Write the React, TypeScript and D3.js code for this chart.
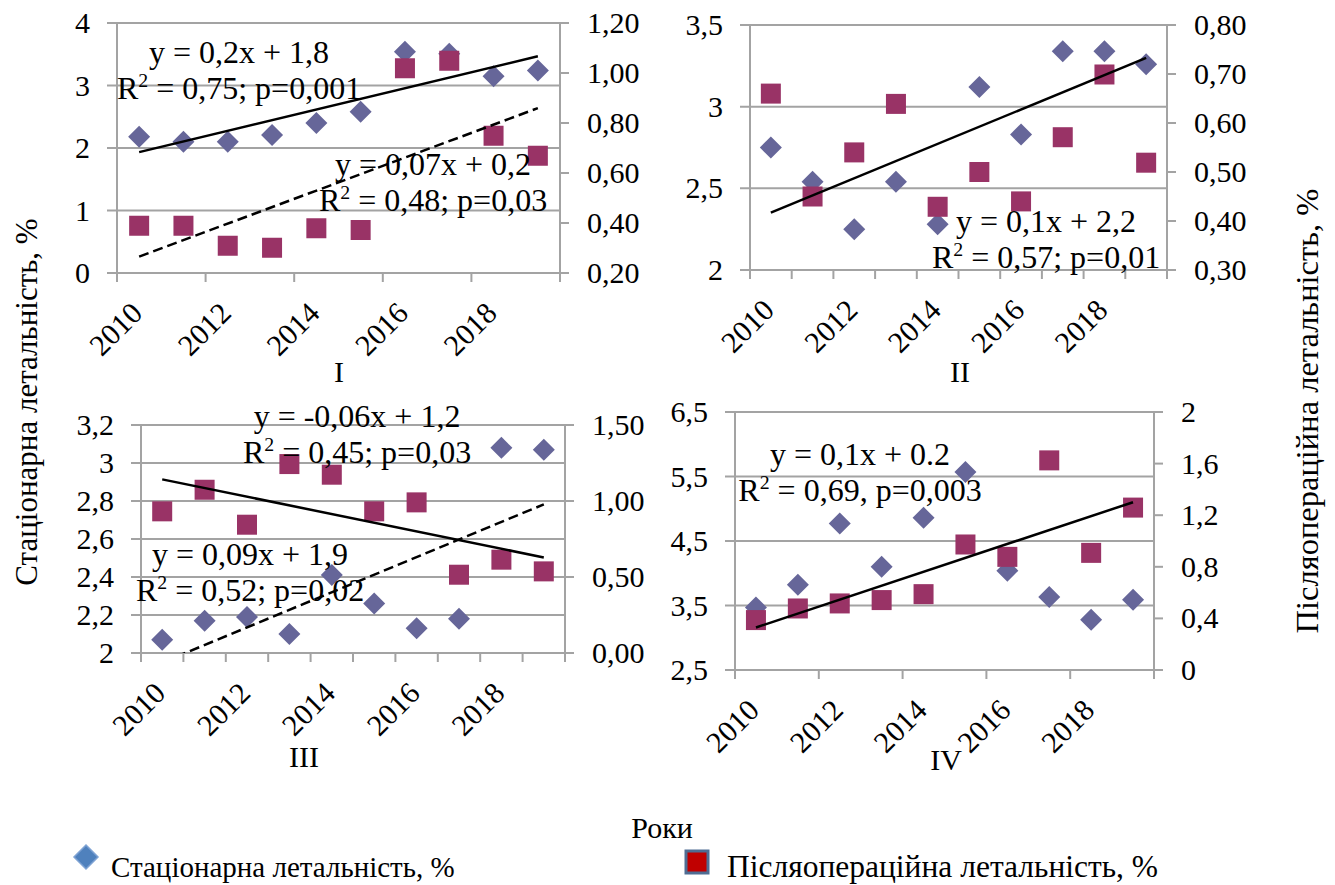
import React from "react";
import * as d3 from "d3";

// ---- Data -------------------------------------------------------------
const YEARS = [2010, 2011, 2012, 2013, 2014, 2015, 2016, 2017, 2018, 2019];
const YEAR_LABELS = [2010, 2012, 2014, 2016, 2018];

const SERIES_NAMES = ["Стаціонарна летальність, %", "Післяопераційна летальність, %"];
const X_TITLE = "Роки";
const PANEL_TITLES = ["I", "II", "III", "IV"];

// Group I
const inpatientI = [2.18, 2.1, 2.1, 2.21, 2.4, 2.58, 3.54, 3.51, 3.15, 3.24];
const postopI = [0.389, 0.389, 0.309, 0.301, 0.379, 0.372, 1.019, 1.049, 0.749, 0.669];
// Group II
const inpatientII = [2.75, 2.54, 2.25, 2.54, 2.28, 3.12, 2.83, 3.34, 3.34, 3.26];
const postopII = [0.66, 0.45, 0.54, 0.639, 0.429, 0.5, 0.44, 0.571, 0.699, 0.519];
// Group III
const inpatientIII = [2.07, 2.17, 2.19, 2.1, 2.41, 2.26, 2.13, 2.18, 3.08, 3.07];
const postopIII = [0.932, 1.074, 0.844, 1.243, 1.173, 0.932, 0.991, 0.515, 0.614, 0.537];
// Group IV
const inpatientIV = [3.47, 3.82, 4.77, 4.1, 4.86, 5.57, 4.04, 3.63, 3.28, 3.59];
const postopIV = [0.387, 0.477, 0.516, 0.542, 0.588, 0.973, 0.877, 1.625, 0.908, 1.259];

// Axis ticks
const leftTicksI = [0, 1, 2, 3, 4];
const rightTicksI = [0.2, 0.4, 0.6, 0.8, 1.0, 1.2];
const leftTicksII = [2, 2.5, 3, 3.5];
const rightTicksII = [0.3, 0.4, 0.5, 0.6, 0.7, 0.8];
const leftTicksIII = [2, 2.2, 2.4, 2.6, 2.8, 3, 3.2];
const rightTicksIII = [0, 0.5, 1, 1.5];
const leftTicksIV = [2.5, 3.5, 4.5, 5.5, 6.5];
const rightTicksIV = [0, 0.4, 0.8, 1.2, 1.6, 2];

// Trend-line annotations
const notesI = [
  ["y = 0,2x + 1,8", "R² = 0,75; p=0,001"],
  ["y = 0,07x + 0,2", "R² = 0,48; p=0,03"],
];
const notesII = [["y = 0,1x + 2,2", "R² = 0,57; p=0,01"]];
const notesIII = [
  ["y = -0,06x + 1,2", "R² = 0,45; p=0,03"],
  ["y = 0,09x + 1,9", "R² = 0,52; p=0,02"],
];
const notesIV = [["y = 0,1x + 0.2", "R² = 0,69, p=0,003"]];

// ---- Styling ----------------------------------------------------------
const FONT = "'Liberation Serif', 'Times New Roman', Times, serif";
const GRID = "#a3a3a3";
const DIAMOND = "#666699";
const SQUARE = "#993366";
const FS = 30;
const NOTE_FS = 32;

const comma = (digits?: number) => (v: number) =>
  (digits == null ? String(+v.toFixed(2)) : v.toFixed(digits)).replace(".", ",");

type Series = "inpatient" | "postop";

interface PanelSpec {
  key: string;
  title: string;
  titleAt: [number, number];
  box: { l: number; r: number; t: number; b: number };
  leftTicks: number[];
  rightTicks: number[];
  leftFmt: (v: number) => string;
  rightFmt: (v: number) => string;
  tickEvery: number;
  inpatient: number[];
  postop: number[];
  trends: { series: Series; dashed?: boolean }[];
  notes: string[][];
  notesAt: [number, number][];
}

const panels: PanelSpec[] = [
  {
    key: "p1",
    title: PANEL_TITLES[0],
    titleAt: [339, 382],
    box: { l: 117, r: 560, t: 23, b: 273 },
    leftTicks: leftTicksI,
    rightTicks: rightTicksI,
    leftFmt: comma(),
    rightFmt: comma(2),
    tickEvery: 2,
    inpatient: inpatientI,
    postop: postopI,
    trends: [{ series: "inpatient" }, { series: "postop", dashed: true }],
    notes: notesI,
    notesAt: [
      [239, 63],
      [433, 175],
    ],
  },
  {
    key: "p2",
    title: PANEL_TITLES[1],
    titleAt: [960, 382],
    box: { l: 750, r: 1167, t: 25, b: 270 },
    leftTicks: leftTicksII,
    rightTicks: rightTicksII,
    leftFmt: comma(),
    rightFmt: comma(2),
    tickEvery: 1,
    inpatient: inpatientII,
    postop: postopII,
    trends: [{ series: "inpatient" }],
    notes: notesII,
    notesAt: [[1046, 232]],
  },
  {
    key: "p3",
    title: PANEL_TITLES[2],
    titleAt: [304, 767],
    box: { l: 141, r: 565, t: 425, b: 653 },
    leftTicks: leftTicksIII,
    rightTicks: rightTicksIII,
    leftFmt: comma(),
    rightFmt: comma(2),
    tickEvery: 1,
    inpatient: inpatientIII,
    postop: postopIII,
    trends: [{ series: "postop" }, { series: "inpatient", dashed: true }],
    notes: notesIII,
    notesAt: [
      [357, 427],
      [250, 565],
    ],
  },
  {
    key: "p4",
    title: PANEL_TITLES[3],
    titleAt: [946, 770],
    box: { l: 735, r: 1154, t: 412, b: 670 },
    leftTicks: leftTicksIV,
    rightTicks: rightTicksIV,
    leftFmt: comma(),
    rightFmt: comma(),
    tickEvery: 2,
    inpatient: inpatientIV,
    postop: postopIV,
    trends: [{ series: "postop" }],
    notes: notesIV,
    notesAt: [[860, 465]],
  },
];

// Ordinary least squares over the category index (1..n)
function linearFit(vals: number[]) {
  const xs = vals.map((_, i) => i + 1);
  const mx = d3.mean(xs) as number;
  const my = d3.mean(vals) as number;
  let sxy = 0;
  let sxx = 0;
  xs.forEach((x, i) => {
    sxy += (x - mx) * (vals[i] - my);
    sxx += (x - mx) * (x - mx);
  });
  const slope = sxy / sxx;
  const intercept = my - slope * mx;
  return (x: number) => intercept + slope * x;
}

function NoteLine({ text, x, y }: { text: string; x: number; y: number }) {
  const parts = text.split("²");
  if (parts.length === 1) {
    return (
      <text x={x} y={y} textAnchor="middle">
        {text}
      </text>
    );
  }
  return (
    <text x={x} y={y} textAnchor="middle">
      {parts[0]}
      <tspan dy={-12} fontSize={NOTE_FS * 0.62}>
        2
      </tspan>
      <tspan dy={12}>{parts[1]}</tspan>
    </text>
  );
}

function Panel({ p }: { p: PanelSpec }) {
  const { l, r, t, b } = p.box;
  const x = d3.scaleBand<number>().domain(YEARS).range([l, r]).padding(0);
  const bw = x.bandwidth();
  const cx = (yr: number) => (x(yr) as number) + bw / 2;
  const yL = d3
    .scaleLinear()
    .domain(d3.extent(p.leftTicks) as [number, number])
    .range([b, t]);
  const yR = d3
    .scaleLinear()
    .domain(d3.extent(p.rightTicks) as [number, number])
    .range([b, t]);

  const boundaries = d3.range(0, YEARS.length + 1, p.tickEvery).map((i) => l + i * bw);
  const clipId = `clip-${p.key}`;
  const dia = 11;
  const sq = 10;

  return (
    <g>
      <defs>
        <clipPath id={clipId}>
          <rect x={l} y={t} width={r - l} height={b - t} />
        </clipPath>
      </defs>
      {/* horizontal gridlines from the primary axis */}
      {p.leftTicks.map((v) => (
        <line key={`g${v}`} x1={l - 10} x2={r} y1={yL(v)} y2={yL(v)} stroke={GRID} strokeWidth={2} />
      ))}
      {/* secondary axis ticks */}
      {p.rightTicks.map((v) => (
        <line key={`rt${v}`} x1={r} x2={r + 9} y1={yR(v)} y2={yR(v)} stroke={GRID} strokeWidth={2} />
      ))}
      {/* axis lines */}
      <line x1={l} x2={l} y1={t} y2={b + 9} stroke={GRID} strokeWidth={2} />
      <line x1={r} x2={r} y1={t} y2={b} stroke={GRID} strokeWidth={2} />
      <line x1={l} x2={r} y1={b} y2={b} stroke={GRID} strokeWidth={2} />
      {boundaries.map((bx) => (
        <line key={`bt${bx}`} x1={bx} x2={bx} y1={b} y2={b + 9} stroke={GRID} strokeWidth={2} />
      ))}

      {/* tick labels */}
      <g fontFamily={FONT} fontSize={FS} fill="#000">
        {p.leftTicks.map((v) => (
          <text key={`lt${v}`} x={l - 27} y={yL(v) + 10} textAnchor="end">
            {p.leftFmt(v)}
          </text>
        ))}
        {p.rightTicks.map((v) => (
          <text key={`rl${v}`} x={r + 27} y={yR(v) + 10} textAnchor="start">
            {p.rightFmt(v)}
          </text>
        ))}
        {YEAR_LABELS.map((yr) => (
          <text
            key={`xl${yr}`}
            transform={`translate(${cx(yr) + 5},${b + 42}) rotate(-45)`}
            textAnchor="end"
          >
            {yr}
          </text>
        ))}
        <text x={p.titleAt[0]} y={p.titleAt[1]} textAnchor="middle">
          {p.title}
        </text>
      </g>

      {/* series markers */}
      {p.inpatient.map((v, i) => {
        const px = cx(YEARS[i]);
        const py = yL(v);
        return (
          <polygon
            key={`d${i}`}
            points={`${px},${py - dia} ${px + dia},${py} ${px},${py + dia} ${px - dia},${py}`}
            fill={DIAMOND}
          />
        );
      })}
      {p.postop.map((v, i) => (
        <rect
          key={`s${i}`}
          x={cx(YEARS[i]) - sq}
          y={yR(v) - sq}
          width={sq * 2}
          height={sq * 2}
          fill={SQUARE}
        />
      ))}

      {/* linear trend lines */}
      <g clipPath={`url(#${clipId})`}>
        {p.trends.map((tr, k) => {
          const vals = tr.series === "inpatient" ? p.inpatient : p.postop;
          const ys = tr.series === "inpatient" ? yL : yR;
          const f = linearFit(vals);
          const pts: [number, number][] = [
            [cx(YEARS[0]), ys(f(1))],
            [cx(YEARS[YEARS.length - 1]), ys(f(YEARS.length))],
          ];
          return (
            <path
              key={`tr${k}`}
              d={d3.line()(pts) as string}
              fill="none"
              stroke="#000"
              strokeWidth={2.5}
              strokeDasharray={tr.dashed ? "10,5" : undefined}
            />
          );
        })}
      </g>

      {/* trend equations */}
      <g fontFamily={FONT} fontSize={NOTE_FS} fill="#000">
        {p.notes.map((lines, k) =>
          lines.map((ln, j) => (
            <NoteLine key={`n${k}-${j}`} text={ln} x={p.notesAt[k][0]} y={p.notesAt[k][1] + j * 36} />
          ))
        )}
      </g>
    </g>
  );
}

export default function App() {
  const W = 1335;
  const H = 885;
  return (
    <svg
      width={W}
      height={H}
      viewBox={`0 0 ${W} ${H}`}
      style={{ position: "absolute", left: 0, top: 0, background: "#fff" }}
    >
      <rect width={W} height={H} fill="#fff" />
      {panels.map((p) => (
        <Panel key={p.key} p={p} />
      ))}
      <g fontFamily={FONT} fill="#000">
        <text transform="translate(37,402) rotate(-90)" textAnchor="middle" fontSize={31}>
          {SERIES_NAMES[0]}
        </text>
        <text transform="translate(1318,411) rotate(-90)" textAnchor="middle" fontSize={32.5}>
          {SERIES_NAMES[1]}
        </text>
        <text x={662} y={838} textAnchor="middle" fontSize={FS}>
          {X_TITLE}
        </text>
        {/* legend */}
        <polygon points="86,845 98,857 86,869 74,857" fill="#4F81BD" stroke="#7FA3D4" strokeWidth={1.5} />
        <text x={111} y={877} fontSize={29}>
          {SERIES_NAMES[0]}
        </text>
        <rect x={686} y={851} width={22} height={22} fill="#C00000" stroke="#4F6D93" strokeWidth={3} />
        <text x={727} y={877} fontSize={31.5}>
          {SERIES_NAMES[1]}
        </text>
      </g>
    </svg>
  );
}
